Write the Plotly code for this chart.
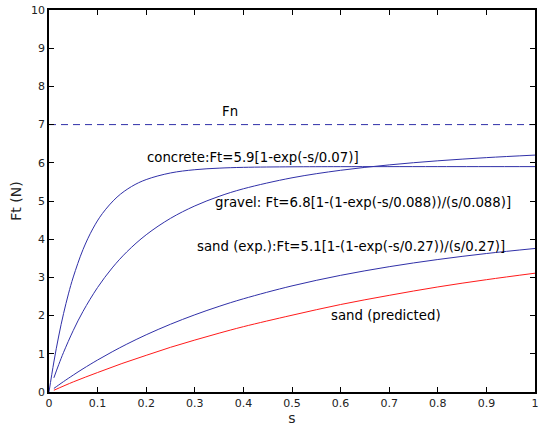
import plotly.graph_objects as go

# Data
s_concrete = [0, 0.01, 0.02, 0.03, 0.04, 0.05, 0.07, 0.09, 0.11, 0.14, 0.17, 0.2, 0.25, 0.3, 0.35, 0.4, 0.5, 0.6, 0.8, 1.0]
ft_concrete = [0, 0.785, 1.466, 2.057, 2.568, 3.012, 3.730, 4.269, 4.674, 5.102, 5.380, 5.561, 5.734, 5.819, 5.860, 5.881, 5.895, 5.899, 5.900, 5.900]

s_curve = [0.01, 0.02, 0.03, 0.05, 0.07, 0.1, 0.13, 0.16, 0.2, 0.25, 0.3, 0.35, 0.4, 0.5, 0.6, 0.7, 0.8, 0.9, 1.0]
ft_gravel = [0.371, 0.717, 1.039, 1.613, 2.111, 2.737, 3.248, 3.667, 4.116, 4.546, 4.871, 5.122, 5.320, 5.607, 5.804, 5.945, 6.052, 6.135, 6.202]
ft_sand_exp = [0.093, 0.184, 0.273, 0.444, 0.608, 0.838, 1.052, 1.252, 1.498, 1.774, 2.021, 2.242, 2.440, 2.778, 3.054, 3.280, 3.468, 3.625, 3.757]

s_pred = [0.01, 0.05, 0.1, 0.15, 0.2, 0.25, 0.3, 0.35, 0.4, 0.5, 0.6, 0.7, 0.8, 0.9, 1.0]
ft_sand_pred = [0.045, 0.265, 0.51, 0.745, 0.96, 1.17, 1.36, 1.54, 1.71, 2.01, 2.29, 2.53, 2.75, 2.94, 3.11]

fn_s = [0, 1]
fn_value = [7, 7]

x_ticks = [0, 0.1, 0.2, 0.3, 0.4, 0.5, 0.6, 0.7, 0.8, 0.9, 1]
x_labels = ["0", "0.1", "0.2", "0.3", "0.4", "0.5", "0.6", "0.7", "0.8", "0.9", "1"]
y_ticks = list(range(0, 11))

labels = [
    ("Fn", 0.372, 7.33, "center"),
    ("concrete:Ft=5.9[1-exp(-s/0.07)]", 0.197, 6.15, "left"),
    ("gravel: Ft=6.8[1-(1-exp(-s/0.088))/(s/0.088)]", 0.337, 4.97, "left"),
    ("sand (exp.):Ft=5.1[1-(1-exp(-s/0.27))/(s/0.27)]", 0.300, 3.82, "left"),
    ("sand (predicted)", 0.576, 1.99, "left"),
]

blue = "#3030a8"
red = "#ff1a1a"

fig = go.Figure()
fig.add_trace(go.Scatter(x=fn_s, y=fn_value, mode="lines",
                         line=dict(color=blue, width=1, dash="7px,5px")))
fig.add_trace(go.Scatter(x=s_concrete, y=ft_concrete, mode="lines",
                         line=dict(color=blue, width=1, shape="spline")))
fig.add_trace(go.Scatter(x=s_curve, y=ft_gravel, mode="lines",
                         line=dict(color=blue, width=1, shape="spline")))
fig.add_trace(go.Scatter(x=s_curve, y=ft_sand_exp, mode="lines",
                         line=dict(color=blue, width=1, shape="spline")))
fig.add_trace(go.Scatter(x=s_pred, y=ft_sand_pred, mode="lines",
                         line=dict(color=red, width=1, shape="spline")))

for text, x, y, anchor in labels:
    fig.add_annotation(x=x, y=y, text=text, showarrow=False, xanchor=anchor,
                       yanchor="middle", font=dict(size=13.3, color="#000000"))

axis_common = dict(showgrid=False, zeroline=False, showline=True, linecolor="black",
                   linewidth=1.5, mirror="ticks", ticks="inside", ticklen=5,
                   tickcolor="black", tickfont=dict(size=11, color="#222222"),
                   automargin=False)

fig.update_xaxes(range=[0, 1], tickvals=x_ticks, ticktext=x_labels,
                 title=dict(text="s", font=dict(size=14, color="#222222"), standoff=4),
                 **axis_common)
fig.update_yaxes(range=[0, 10], tickvals=y_ticks,
                 title=dict(text="Ft (N)", font=dict(size=14, color="#222222"), standoff=6),
                 **axis_common)

fig.update_layout(width=554, height=426, showlegend=False,
                  margin=dict(l=49, r=19, t=10, b=34),
                  plot_bgcolor="white", paper_bgcolor="white",
                  font=dict(family="DejaVu Sans"))

fig.write_html("out.html", config={"displayModeBar": False},
               post_script="document.body.style.margin='0px';")
